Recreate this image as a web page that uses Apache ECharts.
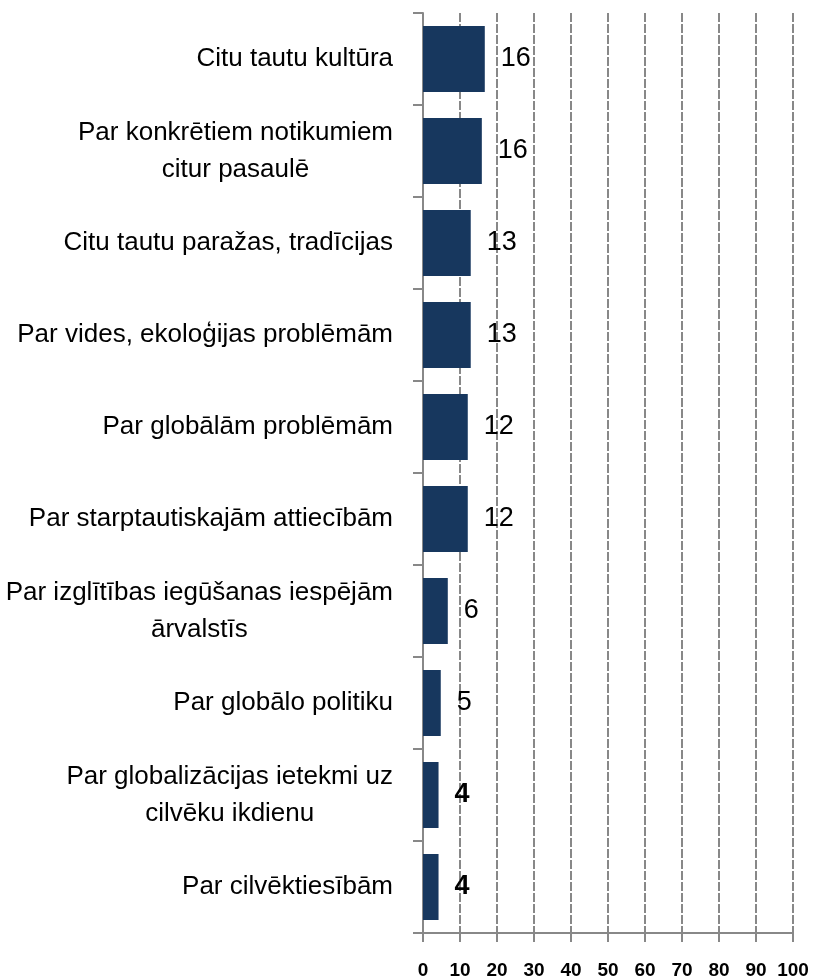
<!DOCTYPE html>
<html>
<head>
<meta charset="utf-8">
<script src="https://cdn.jsdelivr.net/npm/echarts@6/dist/echarts.min.js"></script>
<style>html,body{margin:0;padding:0;background:#fff}#c{width:813px;height:980px}</style>
</head>
<body>
<div id="c"></div>
<script>
const categories = [
  'Citu tautu kultūra',
  'Par konkrētiem notikumiem\ncitur pasaulē',
  'Citu tautu paražas, tradīcijas',
  'Par vides, ekoloģijas problēmām',
  'Par globālām problēmām',
  'Par starptautiskajām attiecībām',
  'Par izglītības iegūšanas iespējām\nārvalstīs',
  'Par globālo politiku',
  'Par globalizācijas ietekmi uz\ncilvēku ikdienu',
  'Par cilvēktiesībām'
];
const values = [16.7, 15.9, 12.9, 12.9, 12.1, 12.1, 6.7, 4.8, 4.2, 4.2];
const valueLabels = ['16', '16', '13', '13', '12', '12', '6', '5', '4', '4'];
const xTicks = [0, 10, 20, 30, 40, 50, 60, 70, 80, 90, 100];

const chart = echarts.init(document.getElementById('c'));
const FONT = "'Liberation Sans', Arial, sans-serif";
chart.setOption({
  animation: false,
  grid: { left: 423, right: 20, top: 13, bottom: 45, containLabel: false },
  xAxis: {
    type: 'value', min: xTicks[0], max: xTicks[xTicks.length - 1], interval: 10,
    axisLine: { show: true, lineStyle: { color: '#888', width: 2 } },
    axisTick: { show: true, length: 9, lineStyle: { color: '#888', width: 2 } },
    axisLabel: { margin: 28, fontFamily: FONT, fontWeight: 'bold', fontSize: 19, color: '#000' },
    splitLine: { show: true, lineStyle: { color: '#888', width: 2, type: [9, 2] } }
  },
  yAxis: {
    type: 'category', data: categories, inverse: true,
    axisLine: { show: true, lineStyle: { color: '#888', width: 2 } },
    axisTick: { show: true, length: 10, lineStyle: { color: '#888', width: 2 } },
    axisLabel: {
      margin: 30, fontFamily: FONT, fontSize: 26, color: '#000', lineHeight: 37,
      formatter: function (v) { return v.split('\n').map(l => '{c|' + l + '}').join('\n'); },
      rich: { c: { align: 'center', fontFamily: FONT, fontSize: 26, lineHeight: 37, color: '#000' } }
    }
  },
  series: [{
    type: 'bar', barCategoryGap: '28%',
    itemStyle: { color: '#17375E' },
    data: values.map((v, i) => ({
      value: v,
      label: { fontWeight: i >= 8 ? 'bold' : 'normal' }
    })),
    label: {
      show: true, position: 'right', distance: 16,
      fontFamily: FONT, fontSize: 27, color: '#000',
      formatter: p => valueLabels[p.dataIndex]
    }
  }]
});
</script>
</body>
</html>
